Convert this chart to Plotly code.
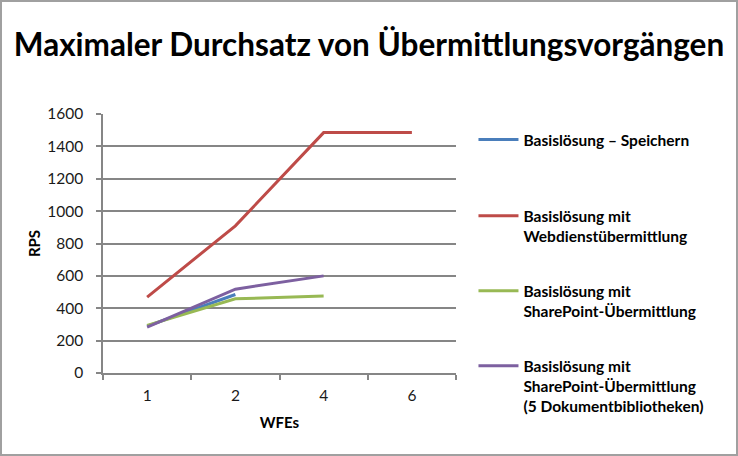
import plotly.graph_objects as go

categories = ["1", "2", "4", "6"]
series_names = [
    "Basislösung – Speichern",
    "Basislösung mit<br>Webdienstübermittlung",
    "Basislösung mit<br>SharePoint-Übermittlung",
    "Basislösung mit<br>SharePoint-Übermittlung<br>(5 Dokumentbibliotheken)",
]
speichern = [290, 485, None, None]
webdienst = [469, 909, 1485, 1485]
sharepoint = [294, 458, 475, None]
sharepoint5 = [284, 518, 600, None]
colors = ["#4A7EBB", "#BE4B48", "#98B954", "#7D60A0"]
y_ticks = [0, 200, 400, 600, 800, 1000, 1200, 1400, 1600]

FONT = "Lato"
LEG_SIZE = 15.5
fig = go.Figure()
values = [speichern, webdienst, sharepoint, sharepoint5]
legend_ids = ["legend", "legend2", "legend3", "legend4"]
for name, vals, col, lid in zip(series_names, values, colors, legend_ids):
    fig.add_trace(go.Scatter(
        x=categories, y=vals, name=name, mode="lines",
        line=dict(color=col, width=3), legend=lid, connectgaps=False,
    ))

legend_y = [140, 216, 291, 366]  # pixel centres of first legend line
plot_top, plot_bot = 114, 373
line_h = LEG_SIZE * 1.3
def ypaper(py):
    return (plot_bot - py) / (plot_bot - plot_top)

legend_common = dict(
    x=1.0495, xanchor="left", yanchor="middle", valign="top", itemwidth=40,
    font=dict(family=FONT, size=LEG_SIZE, color="#000000", weight="bold"),
    bgcolor="rgba(0,0,0,0)", tracegroupgap=0, itemclick=False,
)
layout_legends = {}
for lid, py, name in zip(legend_ids, legend_y, series_names):
    n = name.count("<br>")
    layout_legends[lid] = dict(legend_common, y=ypaper(py + n * line_h / 2))

fig.update_layout(
    width=738, height=456,
    margin=dict(l=103, r=282, t=114, b=83),
    paper_bgcolor="white", plot_bgcolor="white",
    title=dict(text="Maximaler Durchsatz von Übermittlungsvorgängen",
               x=0.5, xanchor="center", y=1 - 45/456, yanchor="middle",
               font=dict(family=FONT, size=31.5, color="#000000", weight="bold")),
    showlegend=True,
    xaxis=dict(
        type="category", categoryorder="array", categoryarray=categories,
        range=[-0.5, 3.5], showgrid=False, showline=True, linecolor="#868686", linewidth=1.5,
        ticks="outside", tickson="boundaries", ticklen=5, tickcolor="#868686", tickwidth=1.5,
        ticklabelstandoff=8,
        tickfont=dict(family=FONT, size=15.5, color="#1a1a1a"),
        title=dict(text="WFEs", standoff=14, font=dict(family=FONT, size=15, color="#000000", weight="bold")),
        zeroline=False,
    ),
    yaxis=dict(
        range=[0, 1600], tickvals=y_ticks, showgrid=True, gridcolor="#868686", gridwidth=1.5,
        showline=True, linecolor="#868686", linewidth=1.5,
        ticks="outside", ticklen=5, tickcolor="#868686", tickwidth=1.5,
        ticklabelstandoff=10,
        tickfont=dict(family=FONT, size=15.5, color="#1a1a1a"),
        title=dict(text="RPS", standoff=3, font=dict(family=FONT, size=15, color="#000000", weight="bold")),
        zeroline=False,
    ),
    shapes=[dict(type="rect", xref="paper", yref="paper",
                 x0=-102/353, x1=(737-103)/353, y0=-82/259, y1=(373-1)/259,
                 line=dict(color="#A0A0A0", width=2), layer="above")],
    **layout_legends,
)
fig.write_html("out.html", config={"displayModeBar": False},
               post_script="document.body.style.margin='0';document.body.style.overflow='hidden';")
